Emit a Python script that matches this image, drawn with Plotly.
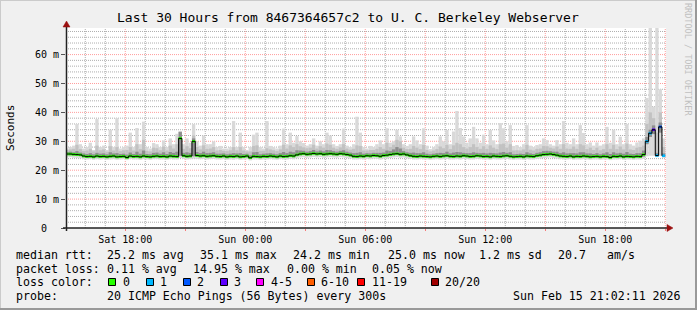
import pandas as pd
import plotly.graph_objects as go

# ---------------- data (milliseconds, 10-minute bins from Sat 15:00) ----------------
median_ms = [
    25.6, 25.6, 25.5, 25.4, 25.3, 24.9, 24.7, 24.8, 24.6, 24.9, 24.7, 24.8, 24.6, 24.8, 24.9, 24.6, 24.7, 24.8, 24.4, 24.9,
    24.7, 24.8, 24.6, 24.9, 24.7, 24.6, 24.8, 24.9, 24.7, 24.8, 24.6, 24.9, 24.8, 24.7, 31.0, 25.0, 24.8, 24.9, 30.0, 25.1,
    24.9, 25.0, 24.8, 24.9, 25.0, 24.8, 24.7, 24.9, 24.6, 24.8, 24.7, 24.9, 24.6, 24.7, 24.9, 24.3, 24.8, 24.7, 24.6, 24.8,
    24.7, 24.9, 24.8, 24.6, 24.9, 24.7, 24.8, 25.0, 24.9, 25.3, 25.6, 25.7, 25.5, 25.6, 25.8, 25.6, 25.7, 25.5, 25.6, 25.7,
    25.6, 25.5, 25.7, 25.6, 25.4, 25.2, 24.8, 24.7, 24.9, 24.8, 25.0, 24.9, 25.1, 25.0, 24.8, 25.1, 25.2, 25.4, 25.6, 25.7,
    25.5, 25.6, 25.3, 25.0, 24.8, 24.7, 24.9, 24.8, 24.7, 24.6, 24.8, 24.9, 24.7, 24.9, 25.0, 24.8, 24.7, 24.9, 24.8, 25.0,
    24.9, 24.7, 24.8, 25.0, 24.9, 24.7, 24.8, 24.6, 24.9, 24.8, 24.7, 24.9, 25.0, 24.8, 24.6, 24.7, 24.8, 24.6, 24.9, 24.8,
    24.7, 25.0, 25.2, 25.4, 25.5, 25.6, 25.4, 25.2, 24.9, 24.8, 24.7, 24.9, 24.6, 24.8, 24.7, 24.9, 24.8, 24.6, 24.7, 24.8,
    24.6, 24.8, 24.7, 24.4, 24.8, 24.7, 24.9, 24.6, 24.8, 24.7, 24.6, 24.8, 24.7, 25.4, 30.0, 32.8, 34.0, 25.1, 35.0, 25.0,
]
ping_min = [
    24.4, 24.5, 24.3, 24.2, 24.1, 23.8, 23.7, 23.8, 23.6, 23.8, 23.7, 23.8, 23.6, 23.7, 23.8, 23.6, 23.7, 23.8, 23.5, 23.8,
    23.7, 23.7, 23.6, 23.8, 23.7, 23.6, 23.8, 23.8, 23.7, 23.7, 23.6, 23.8, 23.7, 23.7, 24.2, 23.9, 23.7, 23.8, 24.0, 23.9,
    23.8, 23.9, 23.7, 23.8, 23.9, 23.7, 23.7, 23.8, 23.6, 23.7, 23.6, 23.8, 23.6, 23.7, 23.8, 23.4, 23.7, 23.7, 23.6, 23.7,
    23.7, 23.8, 23.7, 23.6, 23.8, 23.7, 23.7, 23.9, 23.8, 24.1, 24.4, 24.5, 24.3, 24.4, 24.6, 24.4, 24.5, 24.3, 24.4, 24.5,
    24.4, 24.3, 24.5, 24.4, 24.2, 24.0, 23.7, 23.7, 23.8, 23.7, 23.9, 23.8, 24.0, 23.9, 23.7, 24.0, 24.0, 24.2, 24.4, 24.5,
    24.3, 24.4, 24.1, 23.9, 23.7, 23.7, 23.8, 23.7, 23.7, 23.6, 23.7, 23.8, 23.7, 23.8, 23.9, 23.7, 23.7, 23.8, 23.7, 23.9,
    23.8, 23.7, 23.7, 23.9, 23.8, 23.7, 23.7, 23.6, 23.8, 23.7, 23.7, 23.8, 23.9, 23.7, 23.6, 23.7, 23.7, 23.6, 23.8, 23.7,
    23.7, 23.9, 24.0, 24.2, 24.3, 24.4, 24.2, 24.0, 23.8, 23.7, 23.7, 23.8, 23.6, 23.7, 23.7, 23.8, 23.7, 23.6, 23.7, 23.7,
    23.6, 23.7, 23.7, 23.5, 23.7, 23.7, 23.8, 23.6, 23.7, 23.7, 23.6, 23.7, 23.7, 23.9, 24.8, 25.0, 25.0, 24.5, 25.0, 24.3,
]
ping_p25 = [
    25.2, 25.2, 25.1, 25.0, 24.9, 24.5, 24.3, 24.4, 24.2, 24.5, 24.3, 24.4, 24.2, 24.4, 24.5, 24.2, 24.3, 24.4, 24.0, 24.5,
    24.3, 24.4, 24.2, 24.5, 24.3, 24.2, 24.4, 24.5, 24.3, 24.4, 24.2, 24.5, 24.4, 24.3, 25.0, 24.6, 24.4, 24.5, 24.8, 24.7,
    24.5, 24.6, 24.4, 24.5, 24.6, 24.4, 24.3, 24.5, 24.2, 24.4, 24.3, 24.5, 24.2, 24.3, 24.5, 23.9, 24.4, 24.3, 24.2, 24.4,
    24.3, 24.5, 24.4, 24.2, 24.5, 24.3, 24.4, 24.6, 24.5, 24.9, 25.2, 25.3, 25.1, 25.2, 25.4, 25.2, 25.3, 25.1, 25.2, 25.3,
    25.2, 25.1, 25.3, 25.2, 25.0, 24.8, 24.4, 24.3, 24.5, 24.4, 24.6, 24.5, 24.7, 24.6, 24.4, 24.7, 24.8, 25.0, 25.2, 25.3,
    25.1, 25.2, 24.9, 24.6, 24.4, 24.3, 24.5, 24.4, 24.3, 24.2, 24.4, 24.5, 24.3, 24.5, 24.6, 24.4, 24.3, 24.5, 24.4, 24.6,
    24.5, 24.3, 24.4, 24.6, 24.5, 24.3, 24.4, 24.2, 24.5, 24.4, 24.3, 24.5, 24.6, 24.4, 24.2, 24.3, 24.4, 24.2, 24.5, 24.4,
    24.3, 24.6, 24.8, 25.0, 25.1, 25.2, 25.0, 24.8, 24.5, 24.4, 24.3, 24.5, 24.2, 24.4, 24.3, 24.5, 24.4, 24.2, 24.3, 24.4,
    24.2, 24.4, 24.3, 24.0, 24.4, 24.3, 24.5, 24.2, 24.4, 24.3, 24.2, 24.4, 24.3, 24.7, 29.0, 31.5, 32.5, 24.8, 33.0, 24.7,
]
ping_p75 = [
    26.3, 26.4, 26.2, 26.6, 26.1, 25.8, 25.6, 25.9, 25.5, 26.0, 25.7, 25.8, 25.5, 26.2, 25.8, 25.9, 25.6, 25.7, 25.4, 26.1,
    25.6, 26.4, 25.7, 26.8, 25.6, 25.5, 26.0, 26.1, 25.7, 26.2, 25.6, 26.3, 26.0, 26.4, 33.2, 26.0, 26.2, 26.0, 31.0, 26.3,
    25.9, 26.4, 25.9, 26.0, 26.2, 25.7, 25.7, 25.8, 25.5, 25.7, 25.9, 25.8, 25.9, 25.6, 25.7, 25.2, 26.2, 26.3, 25.5, 25.7,
    25.8, 25.9, 25.7, 25.5, 25.9, 26.3, 25.9, 26.4, 26.2, 26.9, 26.8, 26.7, 26.4, 26.6, 27.0, 26.5, 26.8, 26.5, 27.0, 26.9,
    26.6, 26.4, 26.7, 26.9, 26.4, 26.1, 25.9, 26.0, 26.2, 25.7, 25.9, 25.8, 26.0, 26.0, 26.0, 26.1, 26.8, 26.6, 27.2, 28.0,
    27.5, 26.6, 26.2, 26.0, 26.1, 25.9, 25.9, 26.2, 25.7, 25.5, 25.7, 25.9, 26.0, 25.9, 26.4, 25.8, 26.1, 26.3, 26.2, 26.0,
    25.9, 25.9, 26.2, 26.0, 25.9, 26.0, 25.8, 26.0, 25.9, 25.8, 26.1, 26.3, 26.0, 26.2, 25.5, 25.6, 25.7, 25.6, 26.2, 25.8,
    25.6, 26.0, 26.2, 26.6, 26.7, 26.6, 26.4, 26.4, 25.9, 26.2, 25.8, 25.9, 25.9, 25.8, 26.2, 26.2, 25.8, 25.8, 25.6, 25.9,
    25.5, 25.8, 26.2, 25.6, 26.2, 25.8, 26.0, 25.7, 26.3, 25.7, 25.6, 25.9, 25.9, 26.8, 31.5, 34.0, 35.5, 26.0, 36.5, 25.8,
]
ping_p90 = [
    27.0, 27.2, 27.4, 28.8, 27.3, 26.6, 26.8, 27.4, 26.5, 28.5, 26.9, 27.2, 26.4, 28.3, 26.8, 28.0, 26.6, 26.9, 27.0, 28.0,
    26.8, 29.0, 27.3, 30.5, 26.7, 26.5, 27.8, 27.6, 26.9, 28.2, 26.8, 28.5, 27.5, 29.0, 33.4, 27.4, 28.3, 27.6, 32.0, 28.0,
    27.2, 28.6, 27.4, 27.5, 28.0, 26.8, 27.0, 26.7, 26.6, 26.9, 28.0, 26.9, 28.0, 26.8, 26.5, 26.5, 28.4, 28.6, 26.7, 26.7,
    27.6, 27.2, 26.9, 26.6, 27.2, 28.8, 27.5, 28.6, 28.0, 29.0, 28.3, 27.9, 27.6, 27.8, 28.8, 27.5, 28.3, 27.8, 29.2, 28.8,
    27.8, 27.4, 27.9, 29.0, 27.5, 27.1, 27.4, 28.6, 28.4, 26.8, 26.8, 27.0, 27.0, 27.4, 28.0, 27.4, 29.5, 28.0, 28.8, 30.5,
    30.0, 27.8, 27.3, 27.4, 28.4, 27.8, 27.3, 28.7, 27.0, 26.5, 26.8, 27.3, 28.2, 27.6, 28.8, 27.3, 28.6, 29.5, 29.0, 28.0,
    27.5, 28.0, 29.0, 28.0, 27.4, 28.3, 27.4, 28.6, 27.8, 27.3, 29.0, 29.2, 27.8, 29.0, 26.8, 26.9, 26.8, 27.2, 28.8, 27.1,
    26.8, 27.4, 27.5, 28.4, 28.3, 27.8, 27.5, 28.2, 27.4, 29.0, 27.5, 27.4, 28.2, 27.4, 29.0, 28.6, 27.3, 27.8, 27.0, 27.8,
    26.9, 27.3, 29.0, 27.4, 28.8, 27.3, 28.2, 27.2, 29.2, 27.2, 27.0, 27.8, 28.0, 28.5, 36.0, 40.0, 38.0, 33.0, 40.0, 28.0,
]
ping_max = [
    27.5, 28.0, 28.5, 36.0, 29.0, 27.5, 28.0, 29.5, 27.0, 37.7, 28.0, 28.5, 27.0, 34.0, 28.0, 38.0, 27.5, 28.0, 28.5, 33.0,
    28.0, 34.6, 29.0, 36.8, 28.0, 27.5, 29.4, 29.0, 28.0, 30.3, 28.0, 31.0, 29.0, 32.6, 33.5, 29.0, 31.0, 29.5, 36.0, 30.0,
    28.5, 32.0, 29.0, 29.0, 30.0, 28.0, 28.4, 27.5, 27.5, 28.0, 37.0, 28.0, 33.0, 28.0, 27.0, 28.0, 32.3, 33.0, 28.0, 27.5,
    37.0, 28.4, 28.0, 27.5, 28.5, 34.4, 29.0, 33.0, 29.5, 31.8, 30.0, 29.4, 28.5, 29.0, 31.0, 28.5, 30.0, 29.0, 33.0, 32.0,
    29.0, 28.4, 29.0, 34.4, 28.5, 28.0, 29.0, 38.5, 33.0, 28.0, 27.5, 28.4, 28.0, 29.0, 30.3, 29.0, 34.5, 29.5, 30.0, 34.0,
    31.7, 29.0, 28.4, 29.0, 31.7, 30.3, 29.0, 34.5, 28.5, 27.3, 28.0, 29.0, 31.7, 30.0, 33.9, 29.0, 33.4, 40.5, 34.6, 31.7,
    29.5, 31.0, 35.0, 31.0, 29.5, 32.3, 29.0, 33.9, 30.3, 29.0, 36.3, 34.5, 30.0, 35.6, 28.4, 28.7, 28.0, 29.0, 35.6, 28.5,
    28.0, 28.7, 29.0, 31.0, 30.4, 29.0, 28.5, 30.4, 29.0, 37.0, 29.5, 29.0, 31.0, 29.0, 35.6, 32.9, 29.0, 29.6, 28.5, 29.6,
    28.5, 29.0, 35.0, 29.5, 34.0, 29.0, 31.6, 29.0, 36.0, 29.0, 28.5, 29.6, 30.2, 31.0, 45.0, 75.0, 42.0, 75.0, 48.0, 31.0,
]
lost_pings = [0] * 174 + [1, 1, 3, 1, 2, 1]

y_ticks = [0, 10, 20, 30, 40, 50, 60]
y_labels = ["0\u00a0\u00a0", "10 m", "20 m", "30 m", "40 m", "50 m", "60 m"]
x_label_times = ["2026-02-14 18:00", "2026-02-14 21:00", "2026-02-15 00:00", "2026-02-15 03:00",
                 "2026-02-15 06:00", "2026-02-15 09:00", "2026-02-15 12:00", "2026-02-15 15:00",
                 "2026-02-15 18:00", "2026-02-15 21:00"]
x_labels = ["Sat 18:00", "", "Sun 00:00", "", "Sun 06:00", "", "Sun 12:00", "", "Sun 18:00", ""]

loss_legend = [("0", "#26ff00"), ("1", "#00b8ff"), ("2", "#0059ff"), ("3", "#5e00ff"),
               ("4-5", "#ff00ff"), ("6-10", "#ff5e00"), ("11-19", "#ff0000"), ("20/20", "#a10000")]

X_START, X_END = "2026-02-14 15:02:11", "2026-02-15 21:02:11"
Y_MAX = 69.2

# ---------------- geometry helpers ----------------
W, H = 697, 310
ML, MR, MT, MB = 66, 31, 28, 82
PW, PH = W - ML - MR, H - MT - MB


def px(x):
    return (x - ML) / PW


def py(y):
    return (MT + PH - y) / PH


def loss_color(n):
    if n == 0:
        return loss_legend[0][1]
    if n <= 3:
        return loss_legend[n][1]
    if n <= 5:
        return loss_legend[4][1]
    if n <= 10:
        return loss_legend[5][1]
    if n <= 19:
        return loss_legend[6][1]
    return loss_legend[7][1]


bins = pd.date_range("2026-02-14 15:00:00", periods=len(median_ms), freq="10min")
BW = 10 * 60 * 1000

fig = go.Figure()


def band(lo, hi, color):
    fig.add_trace(go.Bar(x=bins, base=lo, y=[h - l for l, h in zip(lo, hi)], width=BW, offset=0,
                         marker=dict(color=color, line=dict(width=0)), hoverinfo="skip"))


band(ping_min, ping_max, "#d9d9d9")
band(ping_p25, ping_p90, "#c2c2c2")
band(ping_p25, ping_p75, "#8e8e8e")

fig.add_trace(go.Scatter(x=bins, y=median_ms, mode="lines", line=dict(shape="hv", color="#000000", width=1),
                         hoverinfo="skip"))
fig.add_trace(go.Bar(x=bins, base=[m - 0.45 for m in median_ms], y=[0.9] * len(median_ms), width=BW, offset=0,
                     marker=dict(color=[loss_color(n) for n in lost_pings], line=dict(width=0)), hoverinfo="skip"))

FONT = "DejaVu Sans Mono"
fig.update_layout(
    width=W, height=H, margin=dict(l=ML, r=MR, t=MT, b=MB, pad=0),
    paper_bgcolor="#f0f0f0", plot_bgcolor="#ffffff", showlegend=False, barmode="overlay",
    hovermode=False, font=dict(family=FONT, size=10, color="#000000"),
    xaxis=dict(type="date", range=[X_START, X_END],
               tickmode="array", tickvals=x_label_times, ticktext=x_labels,
               ticks="outside", ticklen=2, tickcolor="rgba(255,0,0,0.5)", tickfont=dict(size=10),
               showgrid=False, showline=False, zeroline=False, fixedrange=True),
    yaxis=dict(range=[0, Y_MAX], tickmode="array", tickvals=y_ticks, ticktext=y_labels,
               ticks="outside", ticklen=4, tickcolor="#555555", tickfont=dict(size=10),
               showgrid=False, showline=False, zeroline=False, fixedrange=True),
)

shapes = []
MINOR = dict(color="rgba(140,140,140,0.7)", width=1, dash="1px,1px")
MAJOR = dict(color="rgba(255,60,60,0.5)", width=1, dash="1px,1px")
# vertical grid: hourly minor, 3-hourly major
for t in pd.date_range("2026-02-14 16:00", X_END, freq="1h"):
    shapes.append(dict(type="line", xref="x", yref="paper", x0=t, x1=t, y0=0, y1=1, layer="below",
                       line=MAJOR if t.hour % 3 == 0 else MINOR))
# horizontal grid: 2 ms minor, 10 ms major
for v in range(2, int(Y_MAX) + 1, 2):
    shapes.append(dict(type="line", xref="paper", yref="y", x0=0, x1=1, y0=v, y1=v, layer="below",
                       line=MAJOR if v % 10 == 0 else MINOR))
# frame
shapes.append(dict(type="line", xref="paper", yref="paper", x0=px(0), x1=px(W), y0=py(0.5), y1=py(0.5),
                   line=dict(color="#cbcbcb", width=1)))
shapes.append(dict(type="line", xref="paper", yref="paper", x0=px(0.5), x1=px(0.5), y0=py(0), y1=py(H),
                   line=dict(color="#cbcbcb", width=1)))
shapes.append(dict(type="line", xref="paper", yref="paper", x0=px(0), x1=px(W), y0=py(H - 1), y1=py(H - 1),
                   line=dict(color="#999999", width=2)))
shapes.append(dict(type="line", xref="paper", yref="paper", x0=px(W - 1), x1=px(W - 1), y0=py(0), y1=py(H),
                   line=dict(color="#999999", width=2)))
# axes
shapes.append(dict(type="line", xref="paper", yref="paper", x0=px(63), x1=px(667), y0=py(228), y1=py(228),
                   line=dict(color="#222222", width=1.5)))
shapes.append(dict(type="line", xref="paper", yref="paper", x0=px(66.5), x1=px(66.5), y0=py(231), y1=py(25),
                   line=dict(color="#222222", width=1.5)))
# arrows
shapes.append(dict(type="path", xref="paper", yref="paper",
                   path=f"M {px(66.5)},{py(21)} L {px(63)},{py(27)} L {px(70)},{py(27)} Z",
                   fillcolor="#9b1010", line=dict(color="#9b1010", width=0.5)))
shapes.append(dict(type="path", xref="paper", yref="paper",
                   path=f"M {px(673)},{py(228)} L {px(667)},{py(224.5)} L {px(667)},{py(231.5)} Z",
                   fillcolor="#9b1010", line=dict(color="#9b1010", width=0.5)))

annotations = []


def text(x, y, s, size=11.6, anchor="left", color="#000000", angle=0):
    annotations.append(dict(x=px(x), y=py(y), xref="paper", yref="paper", text=s, showarrow=False,
                            xanchor=anchor, yanchor="middle", textangle=angle, borderpad=0, borderwidth=0,
                            font=dict(family=FONT, size=size, color=color)))


text(347.5, 17, "Last 30 Hours from 8467364657c2 to U. C. Berkeley Webserver", size=13, anchor="center")
text(10, 128, "Seconds", size=11, anchor="center", angle=-90)
text(688, 59, "RRDTOOL / TOBI OETIKER", size=8.5, anchor="center", color="#c0c0c0", angle=90)

row1 = [(16, "median rtt:"), (107, "25.2 ms avg"), (200, "35.1 ms max"), (293, "24.2 ms min"),
        (388, "25.0 ms now"), (479, "1.2 ms sd"), (558, "20.7"), (607, "am/s")]
row2 = [(16, "packet loss:"), (107, "0.11 % avg"), (193, "14.95 % max"), (287, "0.00 % min"),
        (372, "0.05 % now")]
row4 = [(16, "probe:"), (107, "20 ICMP Echo Pings (56 Bytes) every 300s"), (513, "Sun Feb 15 21:02:11 2026")]
for x, s in row1:
    text(x, 254.5, s)
for x, s in row2:
    text(x, 268.5, s)
text(16, 282, "loss color:")
for x, s in row4:
    text(x, 296, s)

square_x = [108, 146, 183, 220, 256, 307, 357, 431]
label_x = [123, 160, 197, 234, 271, 321, 372, 445]
for (lab, col), sx, lx in zip(loss_legend, square_x, label_x):
    shapes.append(dict(type="rect", xref="paper", yref="paper", x0=px(sx + 0.5), x1=px(sx + 7.5),
                       y0=py(278.5), y1=py(285.5), fillcolor=col, line=dict(color="#000000", width=1)))
    text(lx, 282, lab)

fig.update_layout(shapes=shapes, annotations=annotations)
fig.write_html("out.html")
